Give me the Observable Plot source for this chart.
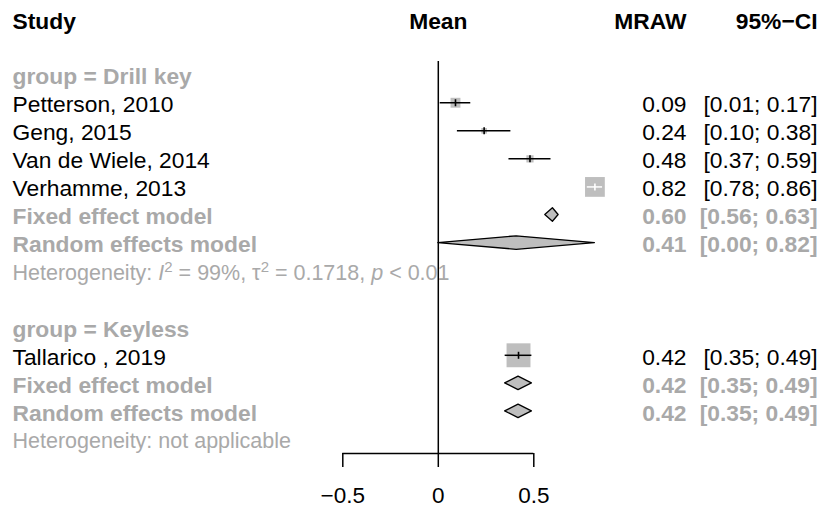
<!DOCTYPE html>
<html>
<head>
<meta charset="utf-8">
<script src="https://cdn.jsdelivr.net/npm/d3@7"></script>
<script src="https://cdn.jsdelivr.net/npm/@observablehq/plot@0.6"></script>
<style>
  html, body { margin: 0; padding: 0; background: #fff; }
  #chart svg { display: block; }
</style>
</head>
<body>
<div id="chart"></div>
<script>
// ---------------- DATA ----------------
const groups = ["Drill key", "Keyless"];

const studyLabels = ["Petterson, 2010", "Geng, 2015", "Van de Wiele, 2014", "Verhamme, 2013", "Tallarico , 2019"];
const studyGroup  = ["Drill key", "Drill key", "Drill key", "Drill key", "Keyless"];
const studyMean   = [0.09, 0.24, 0.48, 0.82, 0.42];
const studyLower  = [0.01, 0.10, 0.37, 0.78, 0.35];
const studyUpper  = [0.17, 0.38, 0.59, 0.86, 0.49];
const studyWeight = [17.1, 5.6, 9.0, 68.3, 100]; // % weight within group (fixed effect)

const fixedMean   = [0.60, 0.42];
const fixedLower  = [0.56, 0.35];
const fixedUpper  = [0.63, 0.49];
const randomMean  = [0.41, 0.42];
const randomLower = [0.00, 0.35];
const randomUpper = [0.82, 0.49];

const hetI2   = ["99%", null];
const hetTau2 = ["0.1718", null];
const hetP    = ["< 0.01", null];

const headerLabels = ["Study", "Mean", "MRAW", "95%\u2212CI"];
const tickValues = [-0.5, 0, 0.5];
const tickLabels = ["\u22120.5", "0", "0.5"];

// ---------------- LAYOUT ----------------
const W = 823, H = 510;
const FONT = "'Liberation Sans', Arial, Helvetica, sans-serif";
const FS = 22.8, FS_HET = 21.5, FS_AXIS = 22.5;
const GRAY = "#a9a9a9", BOX = "#bebebe";
const X_DOMAIN = [-0.5, 0.5], X_RANGE = [342.3, 533.3];
const R_MAX = 13.5;
const DIAMOND_HALF = 0.24; // in rows
const TEXT_DY = 2;
const HEAD_DY = -40;

// build rows
const rows = [];
let r = 0;
groups.forEach((g, gi) => {
  rows.push({row: r++, type: "group", label: `group = ${g}`});
  studyLabels.forEach((s, i) => {
    if (studyGroup[i] === g) rows.push({row: r++, type: "study", label: s,
      mean: studyMean[i], lower: studyLower[i], upper: studyUpper[i], weight: studyWeight[i]});
  });
  rows.push({row: r++, type: "fixed", label: "Fixed effect model",
    mean: fixedMean[gi], lower: fixedLower[gi], upper: fixedUpper[gi]});
  rows.push({row: r++, type: "random", label: "Random effects model",
    mean: randomMean[gi], lower: randomLower[gi], upper: randomUpper[gi]});
  rows.push({row: r++, type: "het", gi,
    label: hetI2[gi] ? `Heterogeneity: I2 = ${hetI2[gi]}, \u03c42 = ${hetTau2[gi]}, p ${hetP[gi]}` : "Heterogeneity: not applicable"});
  if (gi < groups.length - 1) r++;
});
const lastRow = r - 1;
const axisRow = lastRow + 0.5;

const fmt = v => v.toFixed(2);
rows.forEach(d => {
  if (d.mean != null) { d.est = fmt(d.mean); d.ci = `[${fmt(d.lower)}; ${fmt(d.upper)}]`; }
});

const studies = rows.filter(d => d.type === "study");
const pooled = rows.filter(d => d.type === "fixed" || d.type === "random");
const hets = rows.filter(d => d.type === "het");

// CI inside square -> white line
const xpx = d3.scaleLinear(X_DOMAIN, X_RANGE);
const rpx = d3.scaleSqrt([0, 100], [0, R_MAX]);
const inside = d => (xpx(d.upper) - xpx(d.lower)) <= Math.sqrt(Math.PI) * rpx(d.weight);
const ciStroke = d => inside(d) ? "white" : "black";

// diamond polygons
const diamonds = pooled.flatMap((d, i) => [
  {id: i, y: d.row - DIAMOND_HALF, x1: d.mean, x2: d.mean},
  {id: i, y: d.row, x1: d.lower, x2: d.upper},
  {id: i, y: d.row + DIAMOND_HALF, x1: d.mean, x2: d.mean}
]);

const vline = {draw(ctx) { ctx.moveTo(0, -3.5); ctx.lineTo(0, 3.5); }};

const tickMin = d3.min(tickValues), tickMax = d3.max(tickValues);
const meanHeaderX = d3.mean([tickMin, tickMax]);

const head = {dy: HEAD_DY, lineAnchor: "middle", fontWeight: "bold", fontSize: FS, fill: "black"};

const chart = Plot.plot({
  width: W,
  height: H,
  marginTop: 61,
  marginBottom: 57,
  marginLeft: 0,
  marginRight: 0,
  style: {fontFamily: FONT, fontSize: FS + "px", background: "#fff", color: "#000"},
  x: {domain: X_DOMAIN, range: X_RANGE},
  y: {domain: [-0.47, axisRow], reverse: true, axis: null},
  r: {type: "sqrt", domain: [0, 100], range: [0, R_MAX]},
  marks: [
    // headers
    Plot.text([headerLabels[0]], {...head, frameAnchor: "top-left", dx: 12, textAnchor: "start"}),
    Plot.text([{x: meanHeaderX, t: headerLabels[1]}], {...head, x: "x", text: "t", frameAnchor: "top", textAnchor: "middle"}),
    Plot.text([headerLabels[2]], {...head, frameAnchor: "top-right", dx: -137, textAnchor: "end"}),
    Plot.text([headerLabels[3]], {...head, frameAnchor: "top-right", dx: -6, textAnchor: "end"}),

    // left labels
    Plot.text(studies, {y: "row", text: "label", frameAnchor: "left", dx: 12, dy: TEXT_DY, textAnchor: "start", fontSize: FS, fill: "black"}),
    Plot.text(rows.filter(d => d.type === "group" || d.type === "fixed" || d.type === "random"), {y: "row", text: "label", frameAnchor: "left", dx: 12, dy: TEXT_DY, textAnchor: "start", fontSize: FS, fontWeight: "bold", fill: GRAY}),
    Plot.text(hets, {y: "row", text: "label", frameAnchor: "left", dx: 12, dy: TEXT_DY, textAnchor: "start", fontSize: FS_HET, fill: GRAY}),

    // value columns
    Plot.text(studies, {y: "row", text: "est", frameAnchor: "right", dx: -137, dy: TEXT_DY, textAnchor: "end", fontSize: FS, fill: "black"}),
    Plot.text(studies, {y: "row", text: "ci", frameAnchor: "right", dx: -6, dy: TEXT_DY, textAnchor: "end", fontSize: FS, fill: "black"}),
    Plot.text(pooled, {y: "row", text: "est", frameAnchor: "right", dx: -137, dy: TEXT_DY, textAnchor: "end", fontSize: FS, fontWeight: "bold", fill: GRAY}),
    Plot.text(pooled, {y: "row", text: "ci", frameAnchor: "right", dx: -6, dy: TEXT_DY, textAnchor: "end", fontSize: FS, fontWeight: "bold", fill: GRAY}),

    // squares, CI lines, mean ticks
    Plot.dot(studies, {x: "mean", y: "row", r: "weight", symbol: "square", fill: BOX, stroke: "none"}),
    Plot.ruleY(studies, {y: "row", x1: "lower", x2: "upper", stroke: ciStroke, strokeWidth: 1.5}),
    Plot.dot(studies, {x: "mean", y: "row", symbol: vline, r: 3, stroke: ciStroke, fill: "none", strokeWidth: 1.6}),

    // diamonds
    Plot.areaX(diamonds, {y: "y", x1: "x1", x2: "x2", z: "id", fill: BOX, stroke: "black", strokeWidth: 1.3, curve: "linear"}),

    // reference line and axis
    Plot.ruleX([0], {stroke: "black", strokeWidth: 1.5}),
    Plot.ruleY([axisRow], {x1: () => tickMin, x2: () => tickMax, stroke: "black", strokeWidth: 1.5}),
    Plot.axisX(tickValues, {anchor: "bottom", tickSize: 14, tickPadding: 20, strokeWidth: 1.5,
      tickFormat: d => tickLabels[tickValues.indexOf(d)], fontSize: FS_AXIS, label: null})
  ]
});

// rich text for heterogeneity lines
d3.select(chart).selectAll("text").each(function() {
  const t = d3.select(this);
  const d = hets.find(h => h.label === this.textContent);
  if (!d || !hetI2[d.gi]) return;
  t.text(null);
  const add = (s, o = {}) => {
    const ts = t.append("tspan").text(s);
    if (o.italic) ts.attr("font-style", "italic");
    if (o.size) ts.attr("font-size", o.size);
    if (o.dy) ts.attr("dy", o.dy);
    return ts;
  };
  add("Heterogeneity: ");
  add("I", {italic: true});
  add("2", {size: 15, dy: -8});
  add(" = " + hetI2[d.gi] + ", \u03c4", {dy: 8});
  add("2", {size: 15, dy: -8});
  add(" = " + hetTau2[d.gi] + ", ", {dy: 8});
  add("p", {italic: true});
  add(" " + hetP[d.gi]);
});

document.getElementById("chart").appendChild(chart);
</script>
</body>
</html>
